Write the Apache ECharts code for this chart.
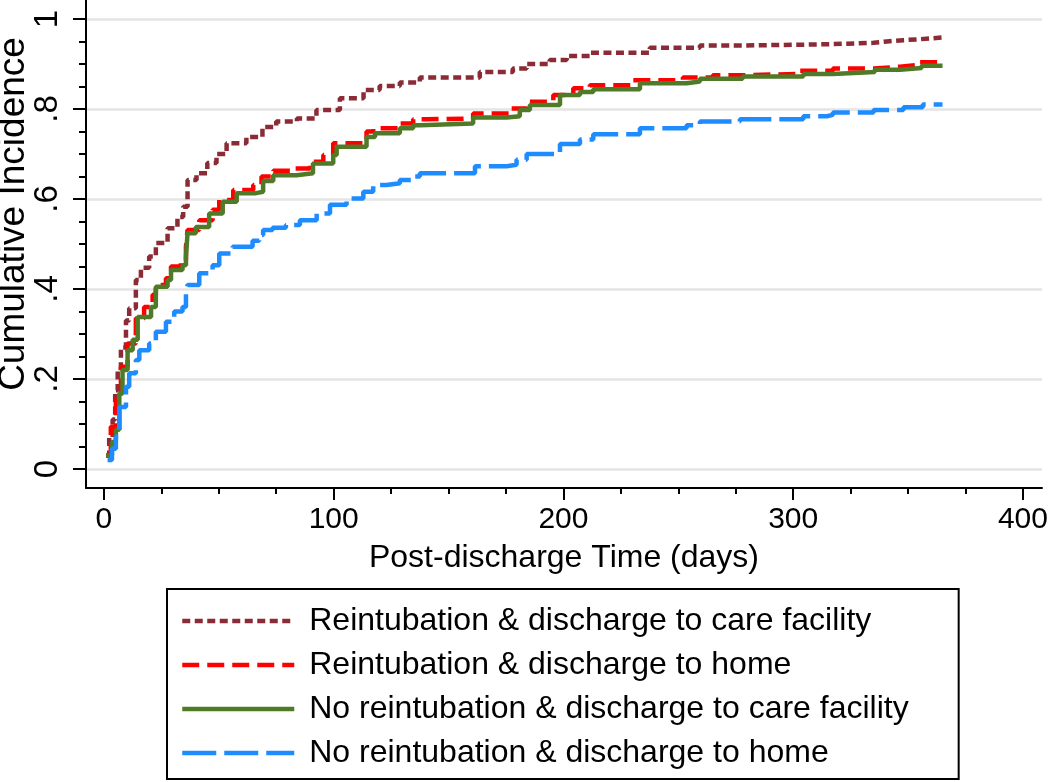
<!DOCTYPE html>
<html>
<head>
<meta charset="utf-8">
<script src="https://cdn.jsdelivr.net/npm/echarts@6/dist/echarts.min.js"></script>
<style>
html,body{margin:0;padding:0;background:#fff;}
#chart{width:1050px;height:782px;}
</style>
</head>
<body>
<div id="chart"></div>
<script>
// ---- data (day, cumulative incidence) ----
const seriesNames = [
  'Reintubation & discharge to care facility',
  'Reintubation & discharge to home',
  'No reintubation & discharge to care facility',
  'No reintubation & discharge to home'
];
const reintCare = [[1,0.03],[2.3,0.07],[3.8,0.11],[4.9,0.175],[6,0.22],[7.4,0.27],[9.6,0.33],[11,0.357],[13.9,0.42],[16.1,0.447],[19.7,0.472],[22.6,0.502],[27.7,0.535],[32,0.56],[34.5,0.583],[36.4,0.642],[40.3,0.657],[45,0.68],[49,0.70],[53.4,0.724],[62,0.738],[69,0.76],[75,0.772],[84,0.779],[92.5,0.798],[102.7,0.824],[113,0.842],[120,0.851],[128.8,0.859],[137.5,0.870],[163.6,0.882],[178,0.89],[184,0.90],[194,0.909],[201.4,0.918],[211.5,0.925],[237.6,0.936],[259.4,0.941],[278,0.943],[304.4,0.944],[316,0.947],[335,0.95],[340.7,0.953],[348,0.955],[355,0.959],[365,0.959]];
const reintHome = [[1,0.03],[3,0.094],[5.2,0.16],[7.4,0.227],[10.3,0.279],[13.9,0.335],[17.5,0.36],[21.2,0.387],[22.6,0.409],[27,0.424],[29.2,0.45],[33.5,0.464],[35.7,0.494],[36.4,0.531],[41.5,0.553],[47.3,0.576],[50.2,0.598],[56.3,0.62],[65,0.631],[68.6,0.65],[73.7,0.663],[82.4,0.668],[89.7,0.683],[95.5,0.698],[99.8,0.724],[114.3,0.75],[117.2,0.757],[128.8,0.768],[134.6,0.777],[140.4,0.779],[160.7,0.79],[176.7,0.801],[184,0.816],[195.6,0.831],[204.3,0.846],[211.5,0.853],[230.4,0.864],[252,0.870],[265,0.875],[278,0.878],[302.9,0.885],[317.3,0.89],[335,0.894],[346.5,0.898],[355,0.904],[365,0.904]];
const noReintCare = [[1,0.03],[3.5,0.06],[5.2,0.087],[6.7,0.168],[8.1,0.22],[10.3,0.264],[12.5,0.287],[14.7,0.338],[20.5,0.36],[22.6,0.405],[27.7,0.42],[29.2,0.442],[34.2,0.453],[35.7,0.472],[36.4,0.524],[40,0.538],[45.8,0.568],[51.7,0.594],[57.8,0.613],[66.2,0.616],[69.3,0.64],[73.7,0.653],[83.8,0.657],[91,0.679],[99.8,0.698],[101.3,0.716],[114.3,0.738],[118,0.746],[128.8,0.757],[134.6,0.764],[137.5,0.768],[160.7,0.781],[175.3,0.784],[181,0.798],[185.4,0.809],[198.5,0.831],[207.2,0.838],[213,0.844],[233.3,0.857],[253.6,0.861],[259.4,0.867],[278,0.872],[304.4,0.878],[317.3,0.882],[335.5,0.887],[346.5,0.891],[355.9,0.896],[365,0.896]];
const noReintHome = [[1.6,0.02],[3.5,0.045],[5.2,0.072],[6.7,0.138],[9.6,0.183],[11,0.213],[13.9,0.242],[15.4,0.264],[19.7,0.279],[22.6,0.305],[27,0.327],[30.6,0.35],[34.2,0.36],[35.7,0.39],[36.4,0.409],[41.5,0.435],[47.3,0.453],[50.2,0.479],[56,0.494],[64.7,0.507],[67.6,0.52],[69.3,0.531],[73.4,0.536],[79.2,0.542],[85.3,0.553],[92.6,0.568],[98.4,0.587],[105.6,0.601],[112.9,0.616],[117.2,0.631],[123,0.635],[128.8,0.642],[134.6,0.65],[137.5,0.657],[161.5,0.673],[175.3,0.676],[179.6,0.687],[184,0.70],[198.5,0.722],[207.2,0.732],[213,0.744],[233.3,0.757],[253.6,0.764],[259.4,0.772],[276.8,0.777],[304.4,0.784],[314.6,0.787],[317.3,0.792],[335,0.798],[348,0.804],[356.4,0.81],[365,0.81]];

// ---- ticks ----
const xMajorTicks = [0,100,200,300,400];
const xMinorTicks = [25,50,75,125,150,175,225,250,275,325,350,375];
const yMajorTicks = [0,0.2,0.4,0.6,0.8,1];
const yTickLabels = ['0','.2','.4','.6','.8','1'];
const yMinorTicks = [0.05,0.1,0.15,0.25,0.3,0.35,0.45,0.5,0.55,0.65,0.7,0.75,0.85,0.9,0.95];

const FONT = '"Liberation Sans", Arial, Helvetica, sans-serif';
const X_MIN = -7.8, X_MAX = 408.3, Y_MIN = -0.0422, Y_MAX = 1.0422;

const chart = echarts.init(document.getElementById('chart'), null, {renderer:'canvas'});

function mkSeries(name, data, color, dash){
  return {
    name: name, type: 'line', data: data, step: 'end',
    symbol: 'none', showSymbol: false, clip: true,
    xAxisIndex: 0, yAxisIndex: 0,
    lineStyle: {color: color, width: 4.5, type: dash, cap: 'butt'},
    itemStyle: {color: color},
    emphasis: {disabled: true}
  };
}

const option = {
  animation: false,
  backgroundColor: '#ffffff',
  textStyle: {fontFamily: FONT},
  grid: {left: 86, right: 8, top: 0, bottom: 294, containLabel: false, outerBoundsMode: 'none'},
  xAxis: [
    {
      type: 'value', min: X_MIN, max: X_MAX, position: 'bottom',
      name: 'Post-discharge Time (days)', nameLocation: 'middle', nameGap: 54, nameMoveOverlap: false,
      nameTextStyle: {fontSize: 32, color: '#000', fontFamily: FONT},
      axisLine: {show: true, onZero: false, lineStyle: {color: '#000', width: 2}},
      axisTick: {show: true, length: 12, customValues: xMajorTicks, lineStyle: {color: '#000', width: 2}},
      axisLabel: {show: true, customValues: xMajorTicks, fontSize: 30, color: '#000', margin: 17, fontFamily: FONT},
      splitLine: {show: false}
    },
    {
      type: 'value', min: X_MIN, max: X_MAX, position: 'bottom', offset: 0,
      axisLine: {show: false, onZero: false},
      axisTick: {show: true, length: 6, customValues: xMinorTicks, lineStyle: {color: '#000', width: 2}},
      axisLabel: {show: false},
      splitLine: {show: false}
    }
  ],
  yAxis: [
    {
      type: 'value', min: Y_MIN, max: Y_MAX, position: 'left',
      name: 'Cumulative Incidence', nameLocation: 'middle', nameGap: 54, nameRotate: 90, nameMoveOverlap: false,
      nameTextStyle: {fontSize: 37, color: '#000', fontFamily: FONT, padding: [0,0,0,60]},
      axisLine: {show: true, onZero: false, lineStyle: {color: '#000', width: 2}},
      axisTick: {show: true, length: 13, customValues: yMajorTicks, lineStyle: {color: '#000', width: 2}},
      axisLabel: {
        show: true, customValues: yMajorTicks, rotate: 90, fontSize: 33, color: '#000', margin: 22, fontFamily: FONT,
        formatter: function(v){
          const i = yMajorTicks.findIndex(t => Math.abs(t - v) < 1e-6);
          return i >= 0 ? yTickLabels[i] : '';
        }
      },
      splitLine: {show: true, lineStyle: {color: '#E4E4E4', width: 2.5}}
    },
    {
      type: 'value', min: Y_MIN, max: Y_MAX, position: 'left', offset: 0,
      axisLine: {show: false, onZero: false},
      axisTick: {show: true, length: 7, customValues: yMinorTicks, lineStyle: {color: '#000', width: 2}},
      axisLabel: {show: false},
      splitLine: {show: false}
    }
  ],
  legend: {
    show: true, orient: 'vertical', left: 167, top: 589,
    padding: [15, 50, 9, 13],
    borderColor: '#000', borderWidth: 2, backgroundColor: '#fff',
    itemWidth: 112, itemHeight: 14, itemGap: 10,
    selectedMode: false,
    itemStyle: {color: 'rgba(0,0,0,0)', borderWidth: 0, opacity: 0},
    lineStyle: {width: 4.5},
    textStyle: {fontSize: 32, color: '#000', fontFamily: FONT, lineHeight: 34, padding: [0,0,0,10]},
    data: seriesNames
  },
  series: [
    mkSeries(seriesNames[0], reintCare, '#8B2B36', [8, 4.5]),
    mkSeries(seriesNames[1], reintHome, '#FF0000', [17, 8]),
    mkSeries(seriesNames[2], noReintCare, '#4F7A28', 'solid'),
    mkSeries(seriesNames[3], noReintHome, '#1E8CFF', [34, 8])
  ]
};
chart.setOption(option);
</script>
</body>
</html>
